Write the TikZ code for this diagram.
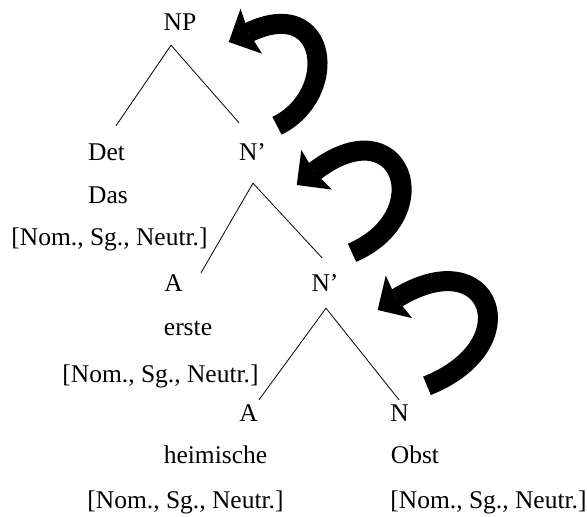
\documentclass[tikz,border=0pt]{standalone}
\usepackage{fontspec}
\setmainfont{Liberation Serif}
\usepackage{tikz}
\usetikzlibrary{calc,arrows.meta}

\tikzset{
  lbl/.style={anchor=base, inner sep=0pt, text height=17pt, text depth=5pt,
    font=\fontsize{25.5}{30}\selectfont},
  branch/.style={line width=0.8pt},
  movearrow/.style={line width=20pt,
    -{Stealth[length=25pt,width=50pt,inset=3pt,line width=0pt]}}
}

\begin{document}
\begin{tikzpicture}[x=1pt,y=-1pt]

    \useasboundingbox (0,0) rectangle (587,517);

    \node (NP) at (180,30) [lbl] {NP};

    \node (det) at (106.5,160) [lbl] {Det};
    \node (nbar1) at (252.5,160) [lbl] {N’};
    \node (das) at (108,203) [lbl] {Das};
    \node (nom1) at (109.5,245) [lbl] {[Nom., Sg., Neutr.]};

    \node (adj1) at (173.5,291) [lbl] {A};
    \node (nbar2) at (325,291) [lbl] {N’};
    \node (erste) at (188,335) [lbl] {erste};
    \node (nom2) at (160.5,382) [lbl] {[Nom., Sg., Neutr.]};

    \node (adj2) at (248.5,421) [lbl] {A};
    \node (noun) at (399.5,421) [lbl] {N};
    \node (heimische) at (215.5,463) [lbl] {heimische};
    \node (obst) at (415,463) [lbl] {Obst};
    \node (nom3) at (185.5,508) [lbl] {[Nom., Sg., Neutr.]};
    \node (nom4) at (488.5,508) [lbl] {[Nom., Sg., Neutr.]};

    \draw[branch] ($(NP.south)+(-9,10)$) -- ($(det.north)+(9.5,-17)$);
    \draw[branch] ($(NP.south)+(-9,10)$) -- ($(nbar1.north)+(-13.5,-20)$);
    \draw[branch] ($(nbar1.south)+(0.5,18)$) -- ($(adj1.north)+(27.5,-1)$);
    \draw[branch] ($(nbar1.south)+(0.5,18)$) -- ($(nbar2.north)+(-3,-16)$);
    \draw[branch] ($(nbar2.south)+(1,12)$) -- ($(adj2.north)+(10.5,-4)$);
    \draw[branch] ($(nbar2.south)+(1,12)$) -- ($(noun.north)+(-0.5,-4)$);

    \draw[movearrow] ($(nbar1.north)+(24.5,-17)$)
      .. controls +(63,-31) and +(100,-48) .. ($(NP.east)+(32.3,18)$);
    \draw[movearrow] ($(nbar2.north)+(27,-21)$)
      .. controls +(88,-38) and +(104,-80) .. ($(nbar1.east)+(30.6,31)$);
    \draw[movearrow] ($(noun.north)+(27.5,-18)$)
      .. controls +(103,-41) and +(113,-70) .. ($(nbar2.east)+(39,25)$);

\end{tikzpicture}
\end{document}
